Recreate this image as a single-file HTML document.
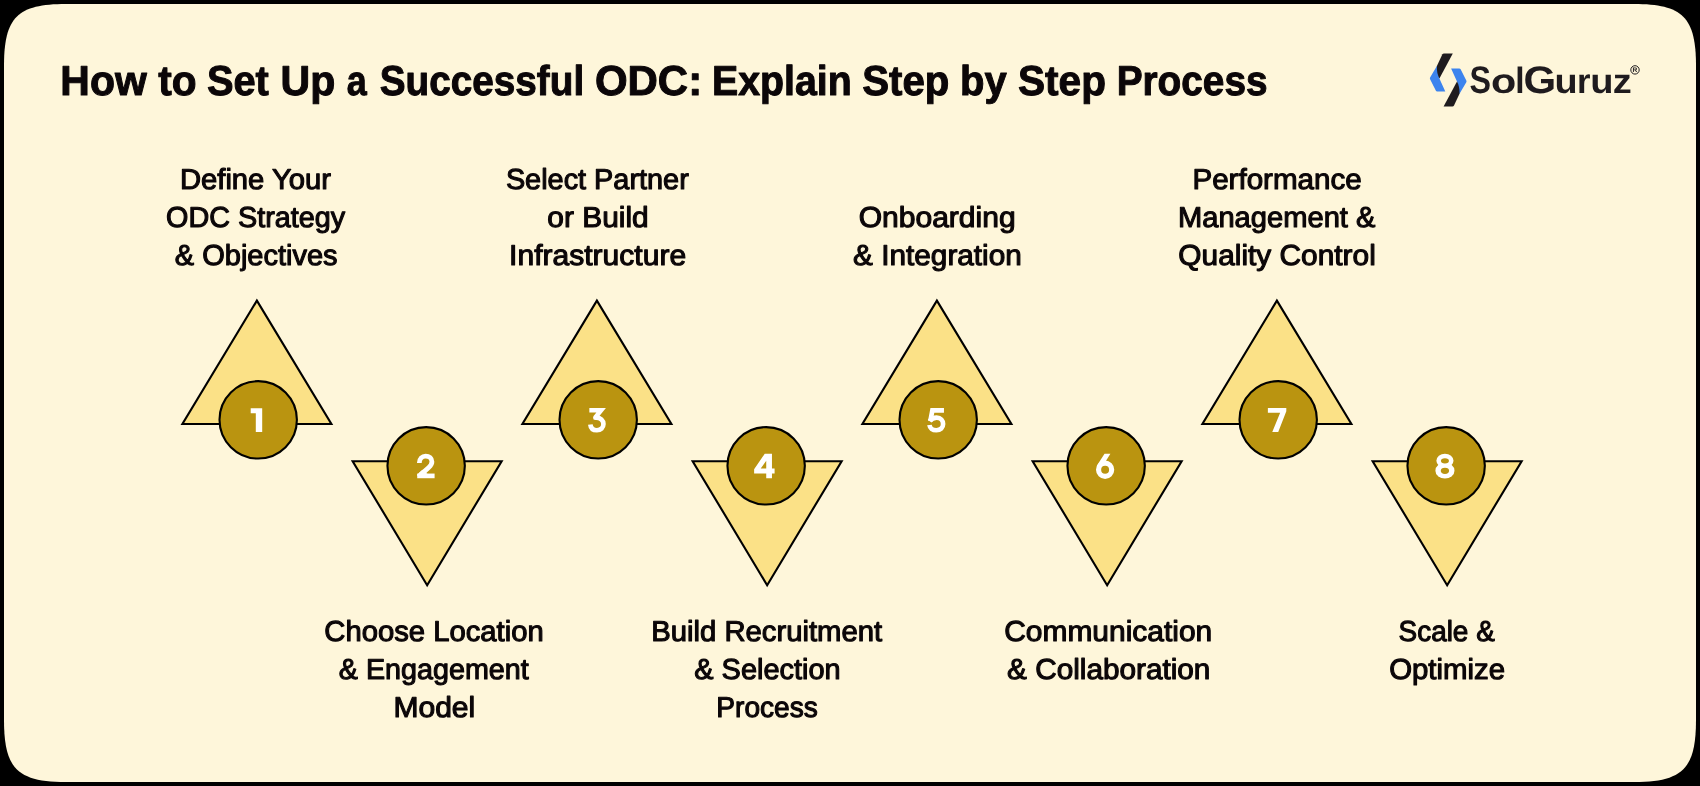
<!DOCTYPE html>
<html lang="en"><head><meta charset="utf-8"><title>How to Set Up a Successful ODC</title>
<style>
html,body{margin:0;padding:0;background:#000;}
body{width:1700px;height:786px;overflow:hidden;font-family:"Liberation Sans",sans-serif;}
svg{display:block;position:absolute;left:0;top:0;will-change:transform}
text{font-family:"Liberation Sans",sans-serif;text-rendering:geometricPrecision}
.t{font-weight:700;font-size:41.9px;fill:#0B0608;stroke:#0B0608;stroke-width:1.0px;stroke-linejoin:round}
.l{font-weight:400;font-size:28.8px;fill:#0B0608;stroke:#0B0608;stroke-width:1.1px;stroke-linejoin:round}
.g{font-weight:700;font-size:38.5px;fill:#1F1B1E}
.n{font-weight:700;font-size:34px;fill:#fff;text-anchor:middle}
.tri{fill:#FBE187;stroke:#000;stroke-width:2.1;stroke-linejoin:miter}
.cir{fill:#BA9410;stroke:#000;stroke-width:2.1}
</style></head><body>
<svg width="1700" height="786" viewBox="0 0 1700 786">
<path d="M4,66 C4,17.33 17.33,4 66,4 L1634,4 C1682.67,4 1696,17.33 1696,66 L1696,720 C1696,768.67 1682.67,782 1634,782 L66,782 C17.33,782 4,768.67 4,720 Z" fill="#FEF6DA"/>
<text class="t" x="60.36" y="95" textLength="86.37" lengthAdjust="spacingAndGlyphs">How</text>
<text class="t" x="158.26" y="95" textLength="38.35" lengthAdjust="spacingAndGlyphs">to</text>
<text class="t" x="206.89" y="95" textLength="61.94" lengthAdjust="spacingAndGlyphs">Set</text>
<text class="t" x="280.57" y="95" textLength="54.78" lengthAdjust="spacingAndGlyphs">Up</text>
<text class="t" x="346.86" y="95" textLength="20.00" lengthAdjust="spacingAndGlyphs">a</text>
<text class="t" x="379.75" y="95" textLength="204.39" lengthAdjust="spacingAndGlyphs">Successful</text>
<text class="t" x="594.95" y="95" textLength="107.21" lengthAdjust="spacingAndGlyphs">ODC:</text>
<text class="t" x="711.99" y="95" textLength="139.81" lengthAdjust="spacingAndGlyphs">Explain</text>
<text class="t" x="862.24" y="95" textLength="87.18" lengthAdjust="spacingAndGlyphs">Step</text>
<text class="t" x="960.12" y="95" textLength="46.83" lengthAdjust="spacingAndGlyphs">by</text>
<text class="t" x="1018.02" y="95" textLength="87.98" lengthAdjust="spacingAndGlyphs">Step</text>
<text class="t" x="1116.64" y="95" textLength="150.98" lengthAdjust="spacingAndGlyphs">Process</text>
<path class="tri" d="M256.9,300.6 L331.4,424.0 L182.39999999999998,424.0 Z"/>
<path class="tri" d="M596.9,300.6 L671.4,424.0 L522.4,424.0 Z"/>
<path class="tri" d="M936.9,300.6 L1011.4,424.0 L862.4,424.0 Z"/>
<path class="tri" d="M1276.9,300.6 L1351.4,424.0 L1202.4,424.0 Z"/>
<path class="tri" d="M352.65,461.2 L501.65,461.2 L427.15,585.2 Z"/>
<path class="tri" d="M692.65,461.2 L841.65,461.2 L767.15,585.2 Z"/>
<path class="tri" d="M1032.65,461.2 L1181.65,461.2 L1107.15,585.2 Z"/>
<path class="tri" d="M1372.65,461.2 L1521.65,461.2 L1447.15,585.2 Z"/>
<circle class="cir" cx="258.20" cy="419.85" r="38.7"/>
<circle class="cir" cx="598.20" cy="419.85" r="38.7"/>
<circle class="cir" cx="938.20" cy="419.85" r="38.7"/>
<circle class="cir" cx="1278.20" cy="419.85" r="38.7"/>
<circle class="cir" cx="426.15" cy="465.8" r="38.7"/>
<circle class="cir" cx="766.15" cy="465.8" r="38.7"/>
<circle class="cir" cx="1106.15" cy="465.8" r="38.7"/>
<circle class="cir" cx="1446.15" cy="465.8" r="38.7"/>
<path fill="#fff" d="M250.7,408.3 L262.2,408.3 L262.2,431.9 L255.8,431.9 L255.8,413.3 L250.7,413.3 Z"/>
<g transform="translate(403,444) scale(0.05852)" fill="#fff" stroke="none"><path fill="none" stroke="#fff" stroke-width="82" stroke-linecap="butt" stroke-linejoin="round" d="M279,325 C279,250 330,206 386,206 C447,206 494,246 494,305 C494,348 472,374 440,402 L300,528"/><path d="M243,505 L540,505 L540,585 L243,585 Z"/><path d="M243,545 L243,520 L330,440 L420,505 Z"/></g>
<g transform="translate(575,398) scale(0.05852)" fill="#fff" stroke="none"><path fill="none" stroke="#fff" stroke-width="78" stroke-linecap="butt" stroke-linejoin="miter" stroke-miterlimit="10" d="M245,209 L447,209 L348,332"/><circle cx="346" cy="337" r="38"/><path fill="none" stroke="#fff" stroke-width="80" stroke-linecap="butt" d="M346,336 C440,330 486,388 486,446 C486,510 440,551 375,551 C308,551 268,512 262,452"/></g>
<g transform="translate(743,444) scale(0.05852)" fill="#fff" stroke="none"><path fill-rule="evenodd" d="M372,165 L495,165 L495,420 L540,420 L540,503 L495,503 L495,585 L397,585 L397,503 L190,503 L190,432 Z M397,288 L397,420 L302,420 Z"/></g>
<g transform="translate(915,398) scale(0.05852)" fill="#fff" stroke="none"><path fill="none" stroke="#fff" stroke-width="80" stroke-linecap="butt" stroke-linejoin="miter" d="M495,210 L297,210 L262,395"/><path fill="none" stroke="#fff" stroke-width="80" stroke-linecap="butt" d="M250,395 C290,345 335,336 370,336 C440,336 480,386 480,446 C480,510 436,551 365,551 C298,551 254,514 247,462"/></g>
<g transform="translate(1083,444) scale(0.05852)" fill="#fff" stroke="none"><circle cx="378" cy="440" r="112" fill="none" stroke="#fff" stroke-width="88"/><path d="M368,168 L468,168 L378,310 L300,400 L236,372 Z"/></g>
<g transform="translate(1255,398) scale(0.05852)" fill="#fff" stroke="none"><path d="M220,170 L535,170 L535,228 L397,580 L295,580 L430,250 L220,250 Z"/></g>
<g transform="translate(1423,444) scale(0.05852)" fill="#fff" stroke="none"><ellipse cx="375" cy="286" rx="146" ry="121"/><ellipse cx="375" cy="455" rx="163" ry="135"/><ellipse cx="375" cy="287" rx="68" ry="45" fill="#BA9410"/><ellipse cx="375" cy="458" rx="71" ry="53" fill="#BA9410"/></g>
<text class="l" x="179.96" y="189" textLength="150.94" lengthAdjust="spacingAndGlyphs">Define Your</text>
<text class="l" x="166.07" y="227" textLength="179.03" lengthAdjust="spacingAndGlyphs">ODC Strategy</text>
<text class="l" x="174.80" y="265" textLength="162.82" lengthAdjust="spacingAndGlyphs">&amp; Objectives</text>
<text class="l" x="505.88" y="189" textLength="182.89" lengthAdjust="spacingAndGlyphs">Select Partner</text>
<text class="l" x="547.39" y="227" textLength="101.31" lengthAdjust="spacingAndGlyphs">or Build</text>
<text class="l" x="509.13" y="265" textLength="177.01" lengthAdjust="spacingAndGlyphs">Infrastructure</text>
<text class="l" x="858.68" y="227" textLength="156.93" lengthAdjust="spacingAndGlyphs">Onboarding</text>
<text class="l" x="853.13" y="265" textLength="168.66" lengthAdjust="spacingAndGlyphs">&amp; Integration</text>
<text class="l" x="1192.49" y="189" textLength="169.13" lengthAdjust="spacingAndGlyphs">Performance</text>
<text class="l" x="1177.98" y="227" textLength="197.48" lengthAdjust="spacingAndGlyphs">Management &amp;</text>
<text class="l" x="1178.39" y="265" textLength="197.43" lengthAdjust="spacingAndGlyphs">Quality Control</text>
<text class="l" x="324.36" y="641" textLength="219.34" lengthAdjust="spacingAndGlyphs">Choose Location</text>
<text class="l" x="338.81" y="679" textLength="190.00" lengthAdjust="spacingAndGlyphs">&amp; Engagement</text>
<text class="l" x="393.46" y="717" textLength="81.79" lengthAdjust="spacingAndGlyphs">Model</text>
<text class="l" x="651.21" y="641" textLength="230.96" lengthAdjust="spacingAndGlyphs">Build Recruitment</text>
<text class="l" x="694.31" y="679" textLength="146.28" lengthAdjust="spacingAndGlyphs">&amp; Selection</text>
<text class="l" x="716.30" y="717" textLength="101.52" lengthAdjust="spacingAndGlyphs">Process</text>
<text class="l" x="1004.22" y="641" textLength="207.97" lengthAdjust="spacingAndGlyphs">Communication</text>
<text class="l" x="1007.10" y="679" textLength="203.29" lengthAdjust="spacingAndGlyphs">&amp; Collaboration</text>
<text class="l" x="1398.58" y="641" textLength="96.19" lengthAdjust="spacingAndGlyphs">Scale &amp;</text>
<text class="l" x="1389.19" y="679" textLength="115.88" lengthAdjust="spacingAndGlyphs">Optimize</text>
<g id="logo">
<g id="chev">
<path d="M1437.0,65.7 L1430.1,77.6 Q1429.6,78.4 1430.1,79.3 L1435.9,90.7 Q1436.3,91.4 1437.1,91.4 L1445.3,91.4 L1439.4,78.4 Z" fill="#3D84EE"/>
<path d="M1444.0,53.4 L1452.8,53.4 L1439.4,78.4 C1437.6,75.0 1436.7,71.5 1436.9,66.0 L1442.4,54.3 Q1442.9,53.4 1444.0,53.4 Z" fill="#1F1B1E"/>
</g>
<g transform="rotate(180 1448.2 79.9)">
<path d="M1437.0,65.7 L1430.1,77.6 Q1429.6,78.4 1430.1,79.3 L1435.9,90.7 Q1436.3,91.4 1437.1,91.4 L1445.3,91.4 L1439.4,78.4 Z" fill="#3D84EE"/>
<path d="M1444.0,53.4 L1452.8,53.4 L1439.4,78.4 C1437.6,75.0 1436.7,71.5 1436.9,66.0 L1442.4,54.3 Q1442.9,53.4 1444.0,53.4 Z" fill="#1F1B1E"/>
</g>
<circle cx="1635" cy="69.9" r="4.2" fill="none" stroke="#1F1B1E" stroke-width="1"/>
<text x="1635" y="72.3" text-anchor="middle" style="font-weight:700;font-size:6.6px;fill:#1F1B1E">R</text>
</g>

<text class="g" x="1469.58" y="93" textLength="21.51" lengthAdjust="spacingAndGlyphs">S</text>
<text class="g" x="1490.98" y="93" textLength="25.23" lengthAdjust="spacingAndGlyphs" transform="matrix(1 0 0 0.9 0 9.300)">o</text>
<text class="g" x="1515.21" y="93" textLength="9.30" lengthAdjust="spacingAndGlyphs" transform="matrix(1 0 0 0.95 0 4.650)">l</text>
<text class="g" x="1523.61" y="93" textLength="32.69" lengthAdjust="spacingAndGlyphs">G</text>
<text class="g" x="1554.59" y="93" textLength="23.14" lengthAdjust="spacingAndGlyphs" transform="matrix(1 0 0 0.9 0 9.300)">u</text>
<text class="g" x="1577.06" y="93" textLength="13.49" lengthAdjust="spacingAndGlyphs" transform="matrix(1 0 0 0.9 0 9.300)">r</text>
<text class="g" x="1590.31" y="93" textLength="23.27" lengthAdjust="spacingAndGlyphs" transform="matrix(1 0 0 0.9 0 9.300)">u</text>
<text class="g" x="1612.69" y="93" textLength="19.00" lengthAdjust="spacingAndGlyphs" transform="matrix(1 0 0 0.9 0 9.300)">z</text>
</svg></body></html>
